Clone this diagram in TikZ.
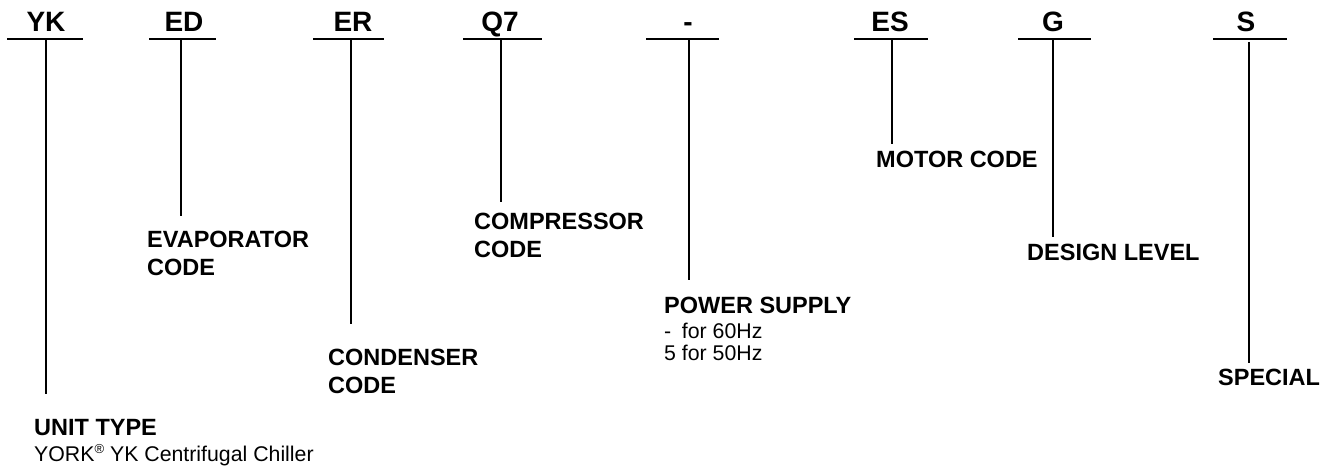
\documentclass[tikz,border=0pt]{standalone}
\usepackage{fontspec}
\setmainfont{Liberation Sans}
\begin{document}
\begin{tikzpicture}[x=1pt,y=-1pt,
  hdr/.style={font=\fontsize{28}{34}\selectfont\bfseries, inner sep=0pt, anchor=base},
  lbl/.style={font=\fontsize{23.5}{28}\selectfont\bfseries, inner sep=0pt, anchor=base west, align=left},
  dsc/.style={font=\fontsize{21.3}{22}\selectfont, inner sep=0pt, anchor=base west, align=left},
  bar/.style={line width=2pt},
  stem/.style={line width=1.8pt}]
\useasboundingbox (0,0) rectangle (1333,470);
% headers
\node[hdr] (hYK) at (46,32) {YK};
\node[hdr] (hED) at (184,32) {ED};
\node[hdr] (hER) at (353,32) {ER};
\node[hdr] (hQ7) at (500,32) {Q7};
\node[hdr] (hPS) at (688,32) {-};
\node[hdr] (hES) at (890,32) {ES};
\node[hdr] (hG) at (1053,32) {G};
\node[hdr] (hS) at (1246,32) {S};
% bars
\coordinate (aYK) at (7,39);    \coordinate (zYK) at (83,39);
\coordinate (aED) at (149,39);  \coordinate (zED) at (216,39);
\coordinate (aER) at (313,39);  \coordinate (zER) at (384,39);
\coordinate (aQ7) at (463,39);  \coordinate (zQ7) at (542,39);
\coordinate (aPS) at (646,39);  \coordinate (zPS) at (719,39);
\coordinate (aES) at (854,39);  \coordinate (zES) at (928,39);
\coordinate (aG) at (1018,39);  \coordinate (zG) at (1091,39);
\coordinate (aS) at (1213,39);  \coordinate (zS) at (1287,39);
\foreach \k in {YK,ED,ER,Q7,PS,ES,G,S}{\draw[bar] (a\k) -- (z\k);}
% stems
\coordinate (tYK) at (46,39);   \coordinate (bYK) at (46,394);
\coordinate (tED) at (181,39);  \coordinate (bED) at (181,216);
\coordinate (tER) at (351,39);  \coordinate (bER) at (351,324);
\coordinate (tQ7) at (501,39);  \coordinate (bQ7) at (501,202);
\coordinate (tPS) at (689,39);  \coordinate (bPS) at (689,280);
\coordinate (tES) at (892,39);  \coordinate (bES) at (892,144);
\coordinate (tG) at (1053,39);  \coordinate (bG) at (1053,237);
\coordinate (tS) at (1249,42);  \coordinate (bS) at (1249,363);
\foreach \k in {YK,ED,ER,Q7,PS,ES,G,S}{\draw[stem] (t\k) -- (b\k);}
% labels (base = baseline of last line)
\node[lbl] (lYK) at (34,435) {UNIT TYPE};
\node[dsc] (dYK) at (34,461) {YORK\raisebox{0.33em}{\fontsize{13}{13}\selectfont ®} YK Centrifugal Chiller};
\node[lbl] (lED) at (147,276) {EVAPORATOR\\CODE};
\node[lbl] (lER) at (328,393) {CONDENSER\\CODE};
\node[lbl] (lQ7) at (474,258) {COMPRESSOR\\CODE};
\node[lbl] (lPS) at (664,313) {POWER SUPPLY};
\node[dsc] (dPS) at (664,360) {\rlap{-}\phantom{5} for 60Hz\\5 for 50Hz};
\node[lbl] (lES) at (876,168) {MOTOR CODE};
\node[lbl] (lG) at (1027,261) {DESIGN LEVEL};
\node[lbl] (lS) at (1218,385) {SPECIAL};
\end{tikzpicture}
\end{document}
